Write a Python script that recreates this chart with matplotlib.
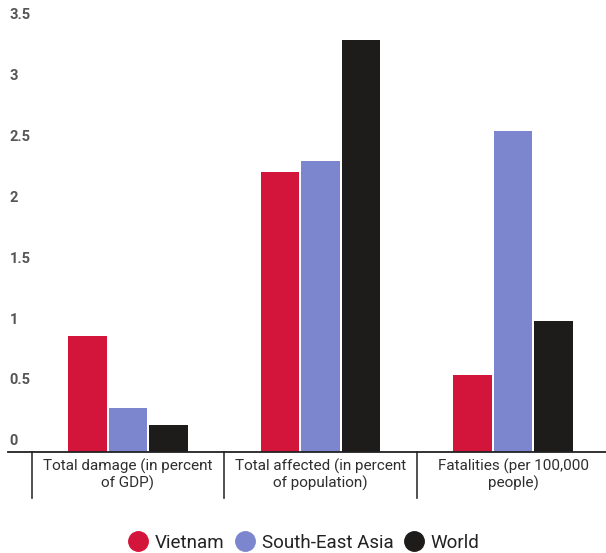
import matplotlib
matplotlib.use("Agg")
import matplotlib.pyplot as plt
import matplotlib.transforms as mtransforms
import numpy as np

plt.rcParams['font.family'] = ['Roboto', 'DejaVu Sans']

categories = ["Total damage (in percent\nof GDP)",
              "Total affected (in percent\nof population)",
              "Fatalities (per 100,000\npeople)"]
series = ["Vietnam", "South-East Asia", "World"]
vietnam = [0.85, 2.20, 0.53]
sea = [0.26, 2.29, 2.54]
world = [0.12, 3.29, 0.98]
y_ticks = [0, 0.5, 1, 1.5, 2, 2.5, 3, 3.5]
y_tick_labels = ["0", "0.5", "1", "1.5", "2", "2.5", "3", "3.5"]

colors = ["#d4153b", "#7b86cf", "#1e1b1b"]

fig = plt.figure(figsize=(6.06, 5.53), dpi=100)
W, H = 606, 553
ax = fig.add_axes([8 / W, 1 - 452 / H, (606 - 8) / W, (452 - 3) / H])

ymin, ymax = -0.1, 3.59
x = np.arange(len(categories))
width = 0.2
offsets = [-0.21, 0, 0.21]
# bars rise from the baseline, which sits a little below the 0 label
for vals, off, col, name in zip([vietnam, sea, world], offsets, colors, series):
    v = np.array(vals)
    ax.bar(x + off, v - ymin, width, bottom=ymin, color=col, label=name, zorder=2)

ax.set_xlim(-0.623, 2.483)
ax.set_ylim(ymin, ymax)

for s in ["top", "right", "left"]:
    ax.spines[s].set_visible(False)
ax.spines["bottom"].set_color("#222222")
ax.spines["bottom"].set_linewidth(1.3)
ax.set_xticks([])
ax.set_yticks(y_ticks)
ax.set_yticklabels(y_tick_labels)
ax.tick_params(axis="y", length=0, pad=-1, labelsize=10.5, labelcolor="#555555")
for lab in ax.get_yticklabels():
    lab.set_horizontalalignment("left")
    lab.set_fontweight("bold")

# group separators below the axis
sep_tr = mtransforms.blended_transform_factory(ax.transData, ax.transAxes)
for b in [-0.5, 0.5, 1.5]:
    ax.plot([b, b], [0, -46 / 449], transform=sep_tr, color="#333333",
            lw=1.2, clip_on=False)

for xi, c in zip(x, categories):
    ax.text(xi, -7 / 449, c, transform=sep_tr, ha="center", va="top",
            fontsize=11, color="#2e2e2e", linespacing=1.15)

handles = [plt.Line2D([], [], marker="o", ls="", markersize=14,
                      markerfacecolor=c, markeredgecolor=c) for c in colors]
fig.legend(handles, series, loc="center", bbox_to_anchor=(303 / W, 1 - 543 / H),
           ncol=3, frameon=False, fontsize=13.5, handletextpad=0.3,
           columnspacing=0.5, handlelength=1.2, labelcolor="#222222",
           borderaxespad=0, borderpad=0)

fig.savefig("out.png", dpi=100, facecolor="white")
